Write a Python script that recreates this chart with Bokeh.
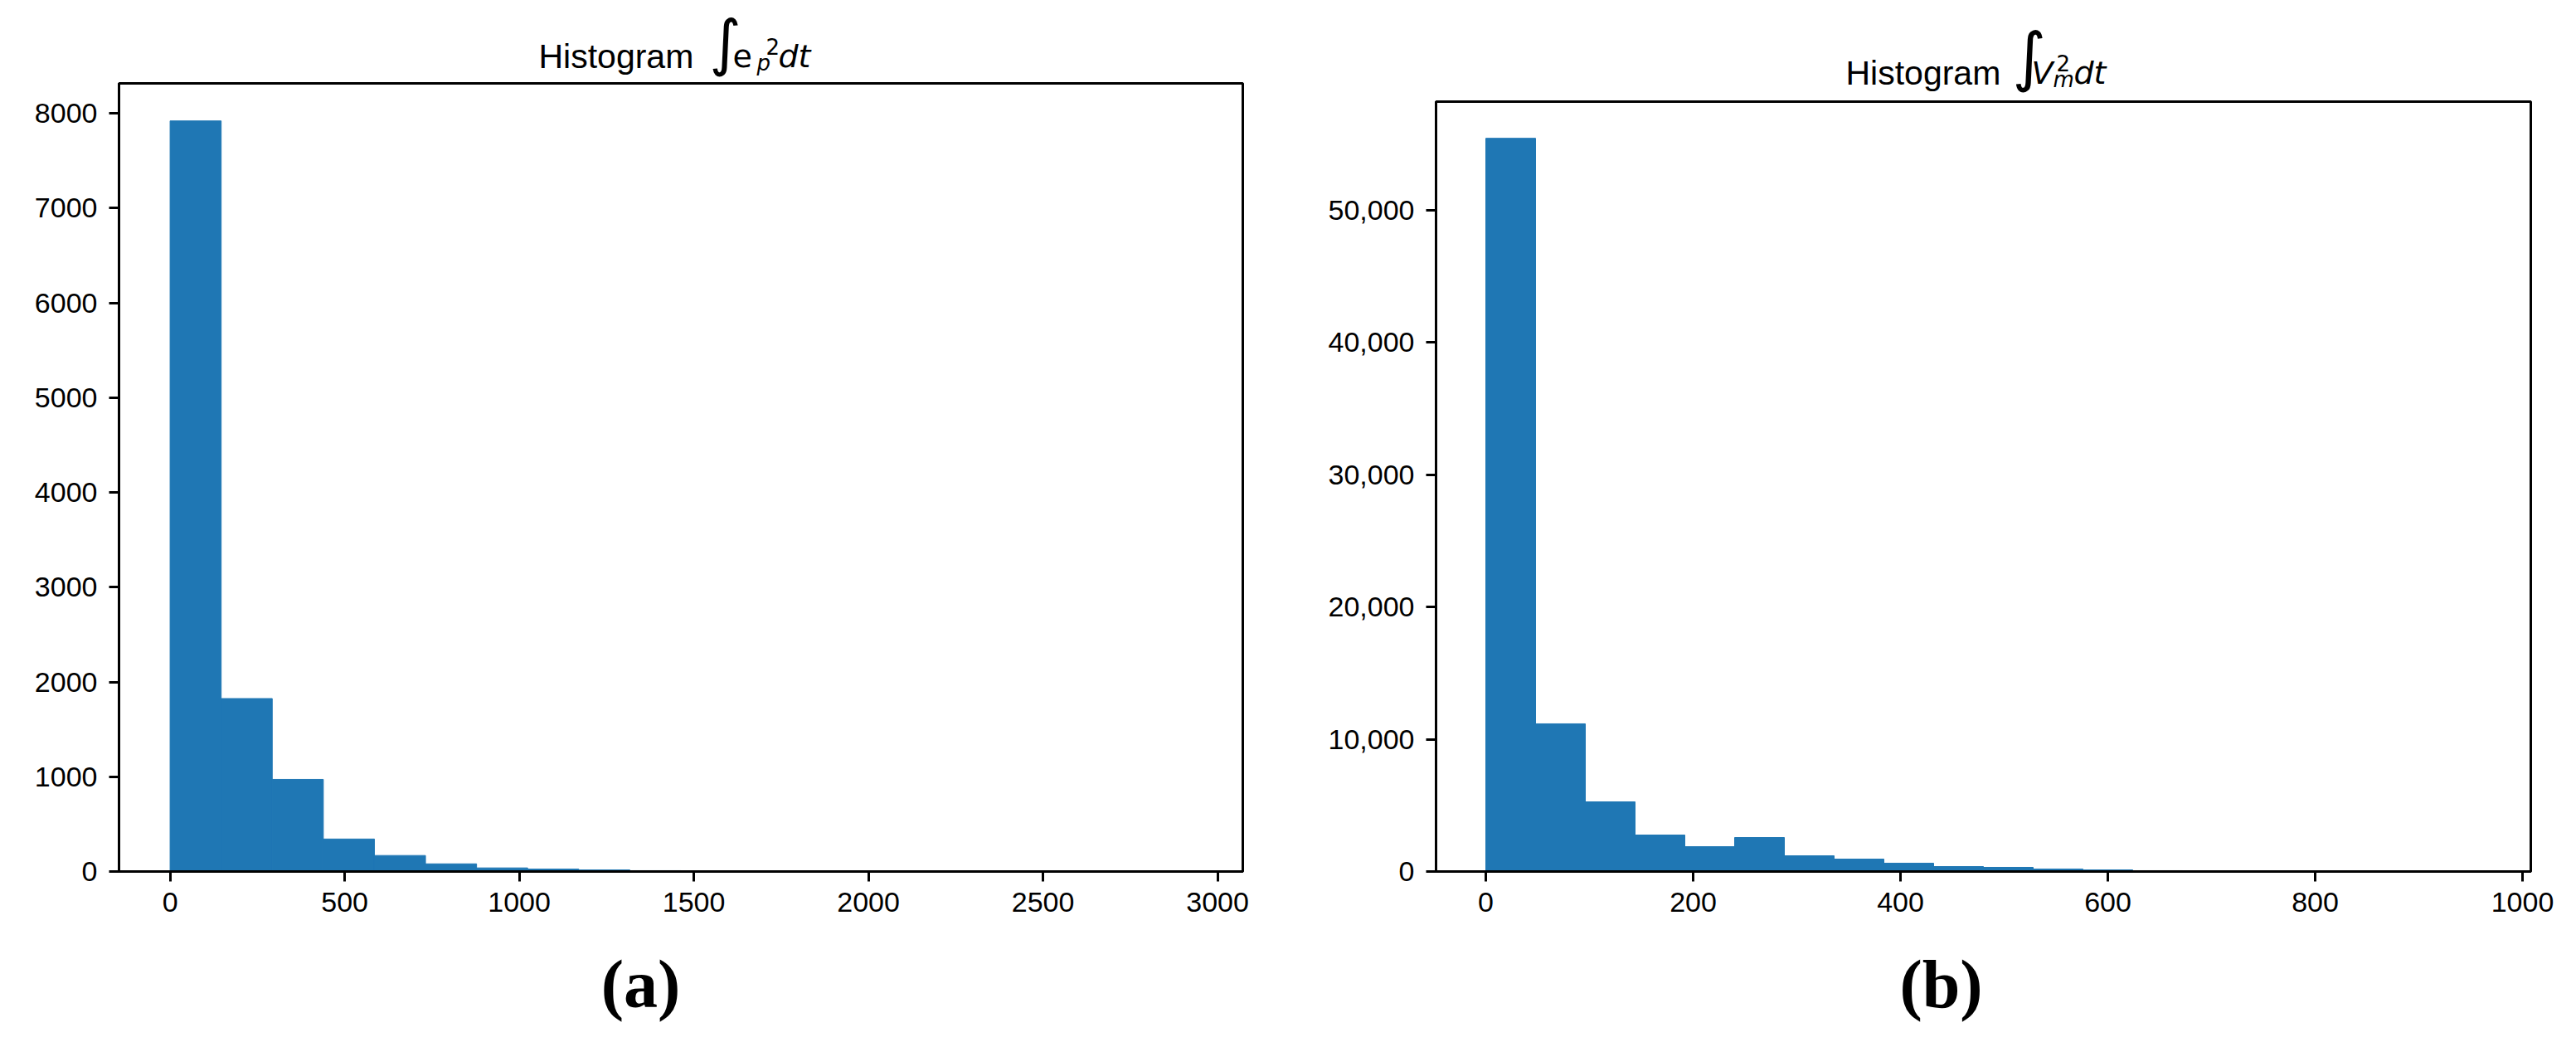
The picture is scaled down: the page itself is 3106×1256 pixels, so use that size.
import numpy as np
from bokeh.plotting import figure
from bokeh.layouts import row, column
from bokeh.models import Label, FixedTicker, NumeralTickFormatter, Range1d
from bokeh.embed import file_html
from bokeh.resources import INLINE

# ---------------- data ----------------
# panel (a): histogram of integral e_p^2 dt
a_min, a_max = 0.0, 2926.0
a_counts = [7920, 1825, 972, 343, 169, 81, 38, 26, 17, 9, 5, 3, 2, 1, 1, 0, 0, 0, 0, 1]
a_xticks = [0, 500, 1000, 1500, 2000, 2500, 3000]
a_yticks = [0, 1000, 2000, 3000, 4000, 5000, 6000, 7000, 8000]

# panel (b): histogram of integral V_m^2 dt
b_min, b_max = 0.0, 960.0
b_counts = [55450, 11170, 5270, 2760, 1880, 2570, 1190, 940, 630, 376, 314, 190, 125, 63, 30, 12, 6, 3, 1, 1]
b_xticks = [0, 200, 400, 600, 800, 1000]
b_yticks = [0, 10000, 20000, 30000, 40000, 50000]

BAR = "#1f77b4"
TICK_FONT = "Liberation Sans"


def make_panel(lo, hi, counts, xticks, yticks, width, height, borders, yfmt=None):
    edges = np.linspace(lo, hi, len(counts) + 1)
    span = hi - lo
    ymax = max(counts) * 1.05
    p = figure(width=width, height=height, output_backend="svg", toolbar_location=None,
               x_range=Range1d(lo - 0.05 * span, hi + 0.05 * span),
               y_range=Range1d(0, ymax),
               min_border_left=borders[0], min_border_right=borders[1],
               min_border_top=borders[2], min_border_bottom=borders[3])
    p.quad(left=edges[:-1], right=edges[1:], top=counts, bottom=0,
           fill_color=BAR, line_color=BAR, line_width=1)
    p.xgrid.visible = False
    p.ygrid.visible = False
    p.outline_line_color = "black"
    p.outline_line_width = 3
    p.outline_line_alpha = 1
    for ax in (p.xaxis[0], p.yaxis[0]):
        ax.axis_line_color = "black"
        ax.axis_line_width = 3
        ax.major_tick_line_color = "black"
        ax.major_tick_line_width = 3
        ax.major_tick_out = 12
        ax.major_tick_in = 0
        ax.minor_tick_line_color = None
        ax.major_label_text_font = TICK_FONT
        ax.major_label_text_font_size = "34px"
        ax.major_label_text_color = "black"
    p.xaxis[0].ticker = FixedTicker(ticks=xticks)
    p.yaxis[0].ticker = FixedTicker(ticks=yticks)
    p.xaxis[0].major_label_standoff = 13
    p.yaxis[0].major_label_standoff = 14
    if yfmt:
        p.yaxis[0].formatter = NumeralTickFormatter(format=yfmt)
    return p


def blank(width, height, left, right):
    f = figure(width=width, height=height, output_backend="svg", toolbar_location=None,
               x_range=Range1d(0, 1), y_range=Range1d(0, 1),
               x_axis_location=None, y_axis_location=None,
               min_border_left=left, min_border_right=right,
               min_border_top=0, min_border_bottom=0,
               outline_line_color=None)
    f.xgrid.visible = False
    f.ygrid.visible = False
    return f


def lab(p, text, x, y, size, font="DejaVu Sans", style="normal", align="left"):
    p.add_layout(Label(x=x, y=y, x_units="screen", y_units="screen", text=text,
                       text_font=font, text_font_size=size, text_font_style=style,
                       text_align=align, text_baseline="alphabetic", text_color="black"))


# left column
ta = blank(1556, 98, 143, 58)
lab(ta, "Histogram", 506, 31, "41px", font="Liberation Sans")
lab(ta, "∫", 712, 48, "74px")
lab(ta, "e", 740, 31, "38px")
lab(ta, "2", 780, 43, "26px")
lab(ta, "p", 769, 23, "26px", style="italic")
lab(ta, "dt", 795, 31, "38px", style="italic")
pa = make_panel(a_min, a_max, a_counts, a_xticks, a_yticks, 1556, 1032, (143, 58, 2, 80))
ca = blank(1556, 120, 143, 58)
lab(ca, "(a)", 629, 64, "82px", font="Liberation Serif", style="bold", align="center")

# right column
tb = blank(1540, 120, 175, 45)
lab(tb, "Histogram", 494, 33, "41px", font="Liberation Sans")
lab(tb, "∫", 695, 53, "78px")
lab(tb, "V", 718, 33, "38px", style="italic")
lab(tb, "2", 748, 45, "26px")
lab(tb, "m", 744, 25, "26px", style="italic")
lab(tb, "dt", 769, 33, "38px", style="italic")
pb = make_panel(b_min, b_max, b_counts, b_xticks, b_yticks, 1540, 1010, (175, 45, 2, 80), yfmt="0,0")
cb = blank(1540, 120, 175, 45)
lab(cb, "(b)", 609, 64, "82px", font="Liberation Serif", style="bold", align="center")

layout = row(column(ta, pa, ca), column(tb, pb, cb))
open("out.html", "w").write(file_html(layout, INLINE))
